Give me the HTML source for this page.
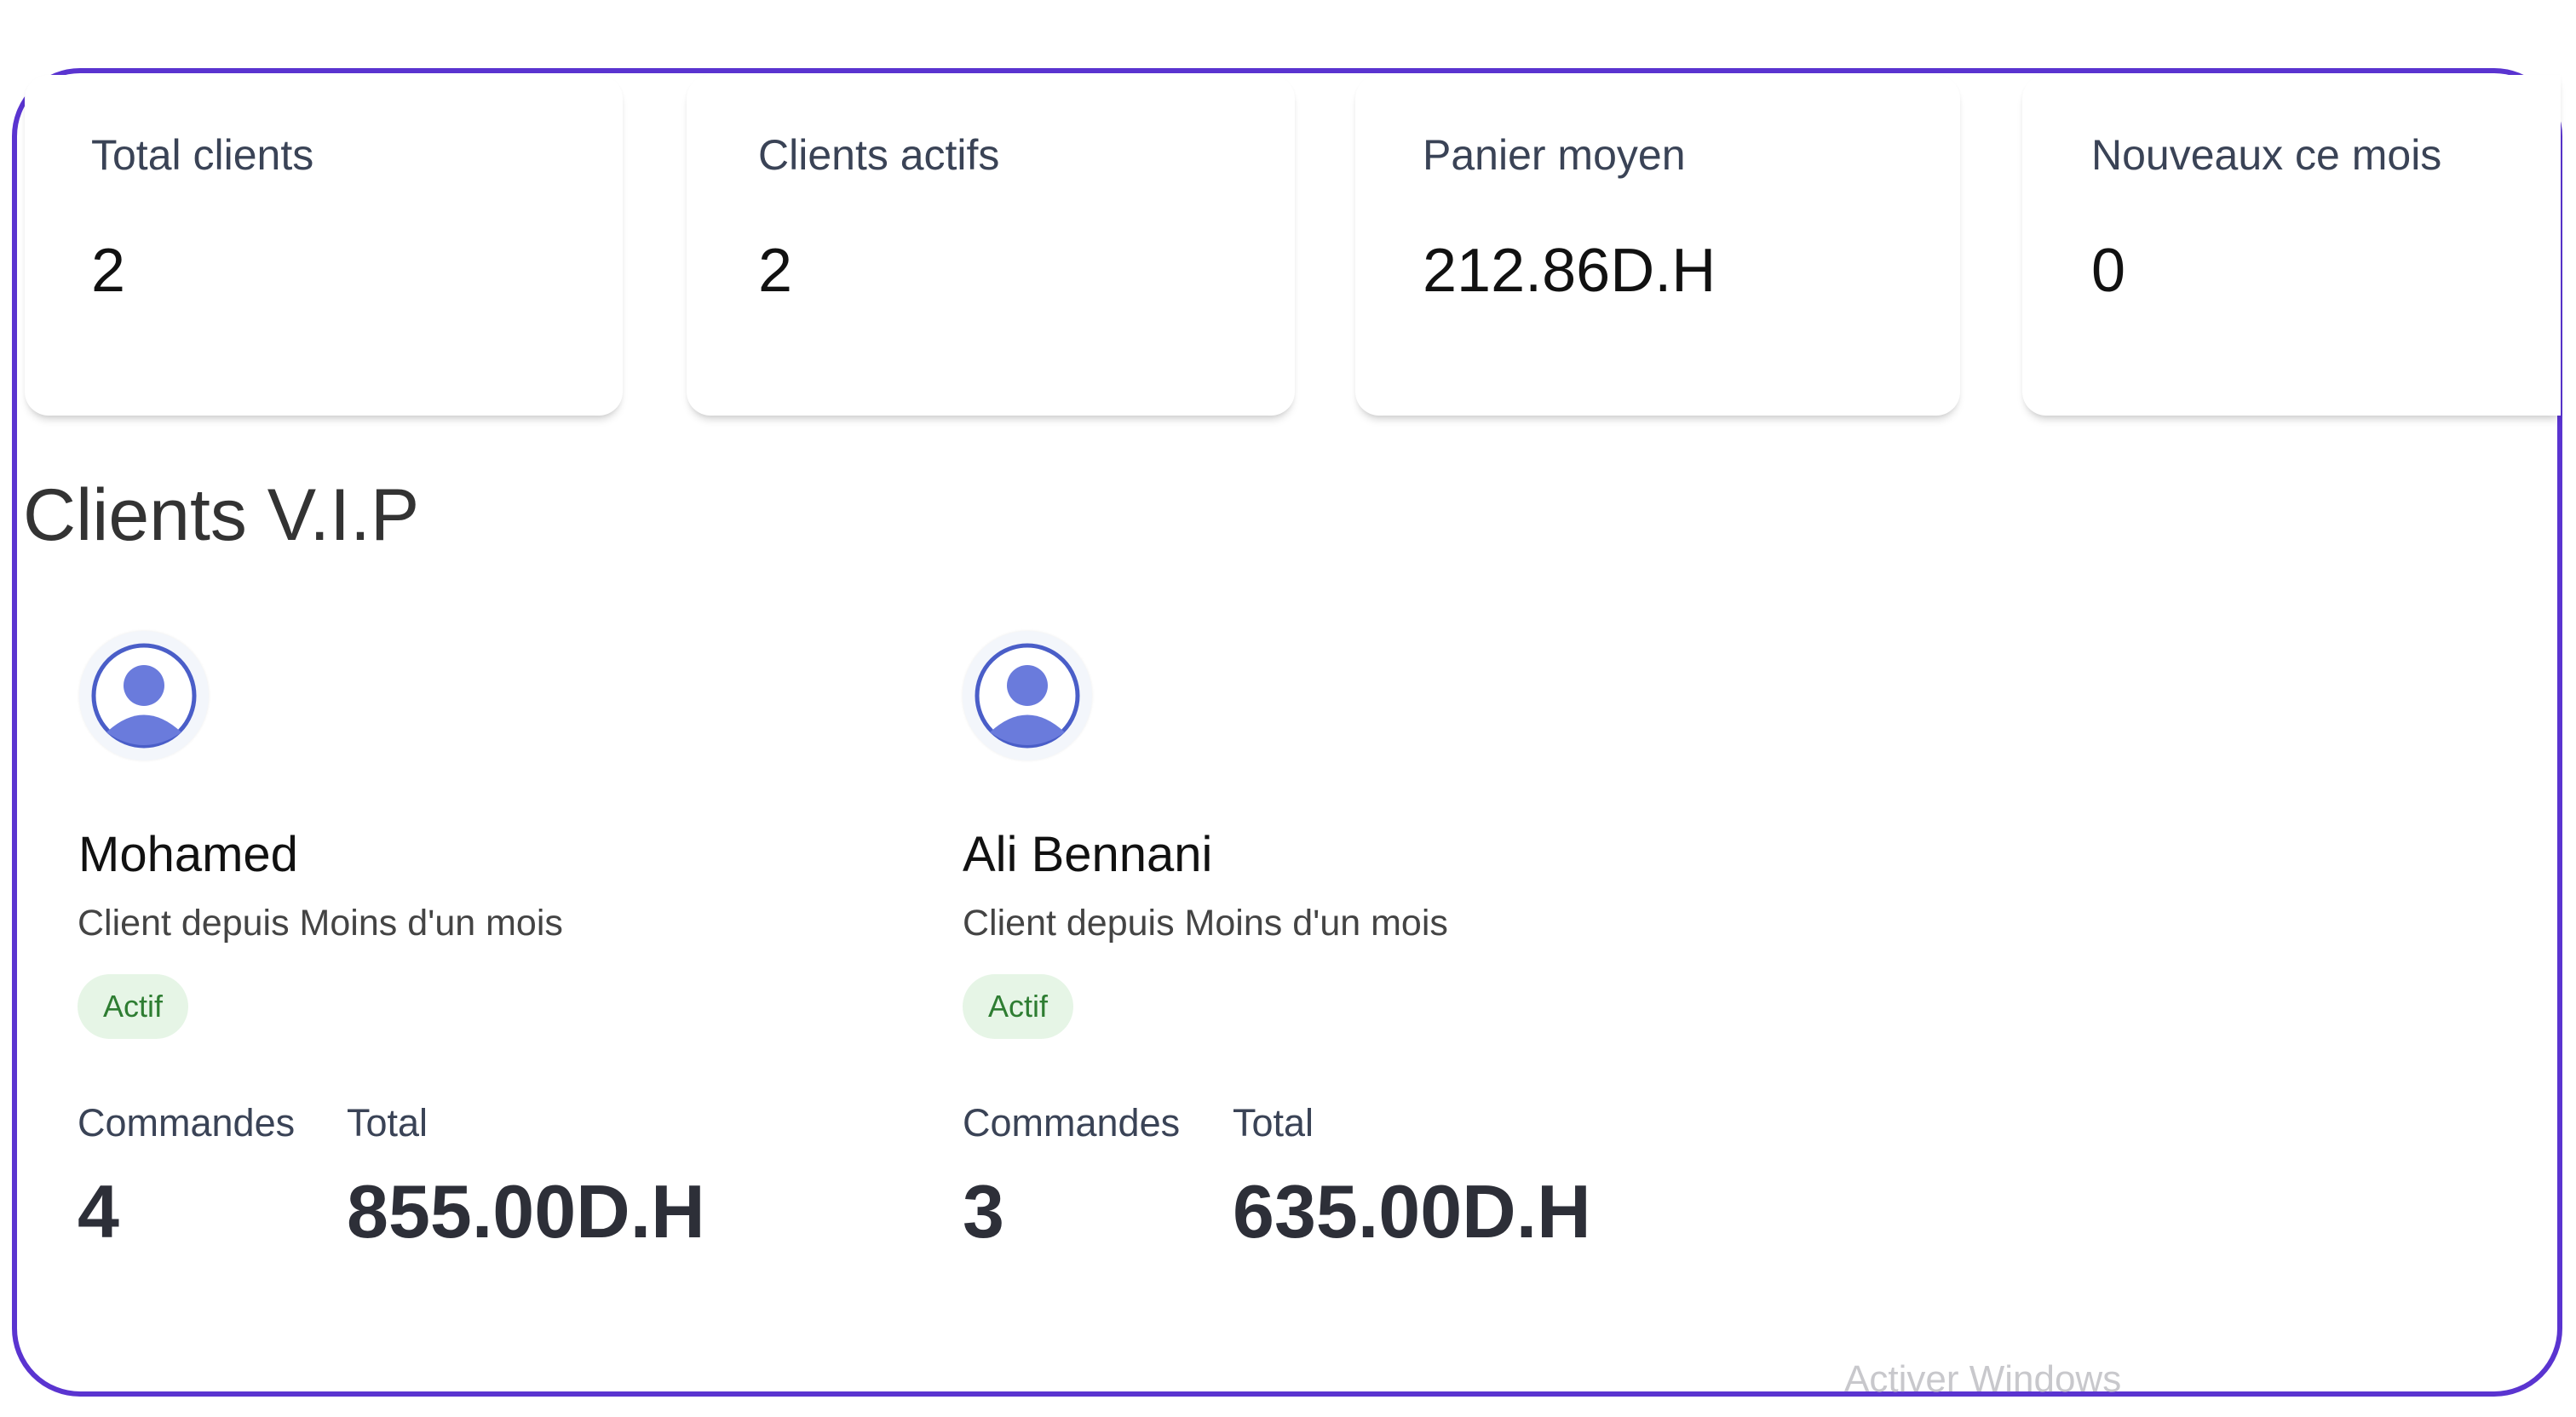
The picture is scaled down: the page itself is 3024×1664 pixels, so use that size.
<!DOCTYPE html>
<html><head><meta charset="utf-8"><style>
html,body{margin:0;padding:0;background:#fff;}
body{width:3024px;height:1664px;position:relative;overflow:hidden;font-family:"Liberation Sans",sans-serif;}
.frame{position:absolute;left:14px;top:80px;width:2994px;height:1560px;border:6px solid #5a34d0;border-radius:80px;box-sizing:border-box;}
.card{position:absolute;top:88px;height:400px;background:#fff;border-radius:28px;box-shadow:0 8px 10px -4px rgba(0,0,0,0.18),0 2px 4px rgba(0,0,0,0.04);}
.t{position:absolute;line-height:1;white-space:nowrap;}
.lab{font-size:50px;color:#3a4356;}
.val{font-size:72px;color:#111;}
.av{position:absolute;width:152px;height:152px;border-radius:50%;background:#f3f6fb;box-shadow:0 0 3px rgba(0,0,0,0.08);}
.pill{position:absolute;width:130px;height:76px;border-radius:38px;background:#e6f5e6;color:#2e7d32;font-size:36px;line-height:76px;text-align:center;}
</style></head><body>
<div class="frame"></div>
<div class="card" style="left:29px;width:702px;"></div>
<div class="card" style="left:806px;width:714px;"></div>
<div class="card" style="left:1591px;width:710px;"></div>
<div class="card" style="left:2374px;width:632px;border-top-right-radius:0;border-bottom-right-radius:0;"></div>

<div class="t lab" style="left:107px;top:157px;">Total clients</div>
<div class="t lab" style="left:890px;top:157px;">Clients actifs</div>
<div class="t lab" style="left:1670px;top:157px;">Panier moyen</div>
<div class="t lab" style="left:2455px;top:157px;">Nouveaux ce mois</div>
<div class="t val" style="left:107px;top:282px;">2</div>
<div class="t val" style="left:890px;top:282px;">2</div>
<div class="t val" style="left:1670px;top:282px;">212.86D.H</div>
<div class="t val" style="left:2455px;top:282px;">0</div>

<div class="t" style="left:27px;top:562px;font-size:86px;color:#333;">Clients V.I.P</div>

<div class="av" style="left:93px;top:741px;"></div>
<div class="av" style="left:1130px;top:741px;"></div>
<svg style="position:absolute;left:107px;top:755px;" width="124" height="124" viewBox="0 0 124 124"><circle cx="62" cy="62" r="59" fill="#fff" stroke="#4a5ec8" stroke-width="5"/><circle cx="62" cy="50" r="24" fill="#6a7bdc"/><path d="M18 105 Q62 64 106 105 Q62 135 18 105Z" fill="#6a7bdc"/></svg>
<svg style="position:absolute;left:1144px;top:755px;" width="124" height="124" viewBox="0 0 124 124"><circle cx="62" cy="62" r="59" fill="#fff" stroke="#4a5ec8" stroke-width="5"/><circle cx="62" cy="50" r="24" fill="#6a7bdc"/><path d="M18 105 Q62 64 106 105 Q62 135 18 105Z" fill="#6a7bdc"/></svg>

<div class="t" style="left:92px;top:975px;font-size:58px;color:#111;">Mohamed</div>
<div class="t" style="left:1130px;top:975px;font-size:58px;color:#111;">Ali Bennani</div>
<div class="t" style="left:91px;top:1063px;font-size:43px;color:#444;">Client depuis Moins d'un mois</div>
<div class="t" style="left:1130px;top:1063px;font-size:43px;color:#444;">Client depuis Moins d'un mois</div>
<div class="pill" style="left:91px;top:1144px;">Actif</div>
<div class="pill" style="left:1130px;top:1144px;">Actif</div>

<div class="t" style="left:91px;top:1296px;font-size:45px;color:#3a4356;">Commandes</div>
<div class="t" style="left:407px;top:1296px;font-size:45px;color:#3a4356;">Total</div>
<div class="t" style="left:1130px;top:1296px;font-size:45px;color:#3a4356;">Commandes</div>
<div class="t" style="left:1447px;top:1296px;font-size:45px;color:#3a4356;">Total</div>
<div class="t" style="left:91px;top:1379px;font-size:88px;font-weight:bold;color:#2d2f38;">4</div>
<div class="t" style="left:407px;top:1379px;font-size:88px;font-weight:bold;color:#2d2f38;">855.00D.H</div>
<div class="t" style="left:1130px;top:1379px;font-size:88px;font-weight:bold;color:#2d2f38;">3</div>
<div class="t" style="left:1447px;top:1379px;font-size:88px;font-weight:bold;color:#2d2f38;">635.00D.H</div>

<div class="t" style="left:2165px;top:1598px;font-size:44px;color:#c8c8cc;">Activer Windows</div>
</body></html>
